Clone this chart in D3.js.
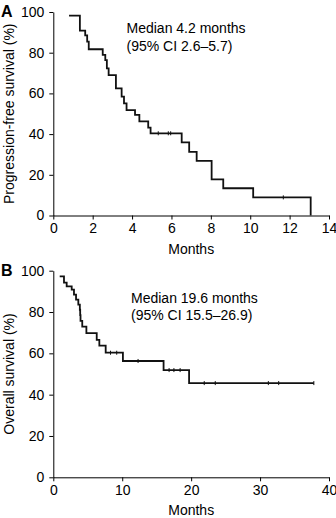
<!DOCTYPE html>
<html>
  <head>
    <title>Kaplan-Meier curves</title>
    <script src="https://d3js.org/d3.v7.min.js"></script>
    <style>
      body { margin: 0; background: #fff; }
      text { font-family: "Liberation Sans", Arial, sans-serif; }
    </style>
  </head>
  <body>
    <svg width="336" height="518"></svg>
    <script>
      // Panel A: progression-free survival (months, %)
      const pfsStart = [0.8, 98.2];
      const pfsTimes = [1.35, 1.62, 1.72, 1.8, 2.51, 2.64, 2.72, 2.81, 3.18, 3.47, 3.59, 3.72, 4.15, 4.37, 4.82, 4.94, 6.52, 6.9, 7.28, 8.04, 8.63, 10.15, 13.07];
      const pfsSurv  = [90.8, 88.5, 85.4, 81.7, 78.9, 76.4, 72.3, 69.0, 62.5, 58.4, 55.1, 51.8, 49.4, 46.3, 43.2, 40.4, 35.9, 31.3, 26.8, 17.8, 13.4, 8.9, 0];
      const pfsCensor = [[5.33, 40.4], [5.84, 40.4], [5.96, 40.4], [11.68, 8.9]];
      const pfsXTicks = [0, 2, 4, 6, 8, 10, 12, 14];

      // Panel B: overall survival (months, %)
      const osStart = [0.93, 97.3];
      const osTimes = [1.55, 1.94, 2.67, 3.0, 3.3, 3.63, 3.85, 3.9, 3.95, 4.2, 4.8, 6.3, 6.68, 7.6, 10.1, 16.0, 19.7];
      const osSurv  = [94.2, 92.4, 90.8, 88.4, 86.0, 83.6, 81.1, 78.5, 75.7, 72.9, 69.8, 66.5, 63.7, 60.3, 56.3, 51.9, 45.6];
      const osEnd = 37.8;
      const osCensor = [[8.3, 60.3], [9.2, 60.3], [12.3, 56.3], [16.8, 51.9], [17.5, 51.9], [18.4, 51.9],
                        [21.9, 45.6], [23.5, 45.6], [31.2, 45.6], [32.7, 45.6], [37.8, 45.6]];
      const osXTicks = [0, 10, 20, 30, 40];

      const yTicks = [0, 20, 40, 60, 80, 100];

      const svg = d3.select("svg");

      function panel(opts) {
        const x = d3.scaleLinear().domain(opts.xDomain).range([53.3, 329]);
        const y = d3.scaleLinear().domain([0, 100]).range([opts.y0, opts.y100]);
        const g = svg.append("g");

        g.append("g")
          .attr("transform", `translate(0,${opts.y0})`)
          .call(d3.axisBottom(x).tickValues(opts.xTicks).tickSize(4).tickSizeOuter(0).tickPadding(4))
          .call(a => a.selectAll("text").attr("font-size", 14).attr("fill", "#000").attr("font-family", "Liberation Sans, Arial"))
          .call(a => a.selectAll("line,path").attr("stroke", "#000"));

        g.append("g")
          .attr("transform", "translate(53.3,0)")
          .call(d3.axisLeft(y).tickValues(yTicks).tickSize(4).tickSizeOuter(0).tickPadding(5))
          .call(a => a.selectAll("text").attr("font-size", 14).attr("fill", "#000").attr("font-family", "Liberation Sans, Arial"))
          .call(a => a.selectAll("line,path").attr("stroke", "#000"));

        const pts = [opts.start].concat(opts.times.map((t, i) => [t, opts.surv[i]]));
        if (opts.end != null) pts.push([opts.end, opts.surv[opts.surv.length - 1]]);

        const line = d3.line().x(d => x(d[0])).y(d => y(d[1])).curve(d3.curveStepAfter);
        g.append("path")
          .attr("d", line(pts))
          .attr("fill", "none")
          .attr("stroke", "#111")
          .attr("stroke-width", 1.8);

        g.selectAll(".cens").data(opts.censor).join("line")
          .attr("x1", d => x(d[0])).attr("x2", d => x(d[0]))
          .attr("y1", d => y(d[1]) - 2).attr("y2", d => y(d[1]) + 2)
          .attr("stroke", "#111").attr("stroke-width", 1);

        g.append("text").attr("x", 1).attr("y", opts.y100 + 5)
          .attr("font-size", 16).attr("font-weight", "bold").text(opts.letter);

        g.append("text").attr("x", 191.2).attr("y", opts.y0 + 38)
          .attr("font-size", 14).attr("text-anchor", "middle").text("Months");

        g.append("text")
          .attr("transform", `translate(14,${(opts.y0 + opts.y100) / 2}) rotate(-90)`)
          .attr("font-size", 14).attr("text-anchor", "middle").text(opts.yTitle);

        opts.note.forEach((s, i) => {
          g.append("text").attr("x", opts.noteX).attr("y", opts.noteY + i * 17.5)
            .attr("font-size", 14).text(s);
        });
      }

      panel({
        letter: "A", xDomain: [0, 14], xTicks: pfsXTicks, y0: 215.5, y100: 12,
        start: pfsStart, times: pfsTimes, surv: pfsSurv, end: null, censor: pfsCensor,
        yTitle: "Progression-free survival (%)",
        note: ["Median 4.2 months", "(95% CI 2.6\u20135.7)"], noteX: 126.5, noteY: 33
      });

      panel({
        letter: "B", xDomain: [0, 40], xTicks: osXTicks, y0: 477.3, y100: 270.7,
        start: osStart, times: osTimes, surv: osSurv, end: osEnd, censor: osCensor,
        yTitle: "Overall survival (%)",
        note: ["Median 19.6 months", "(95% CI 15.5\u201326.9)"], noteX: 131, noteY: 302.5
      });
    </script>
  </body>
</html>
